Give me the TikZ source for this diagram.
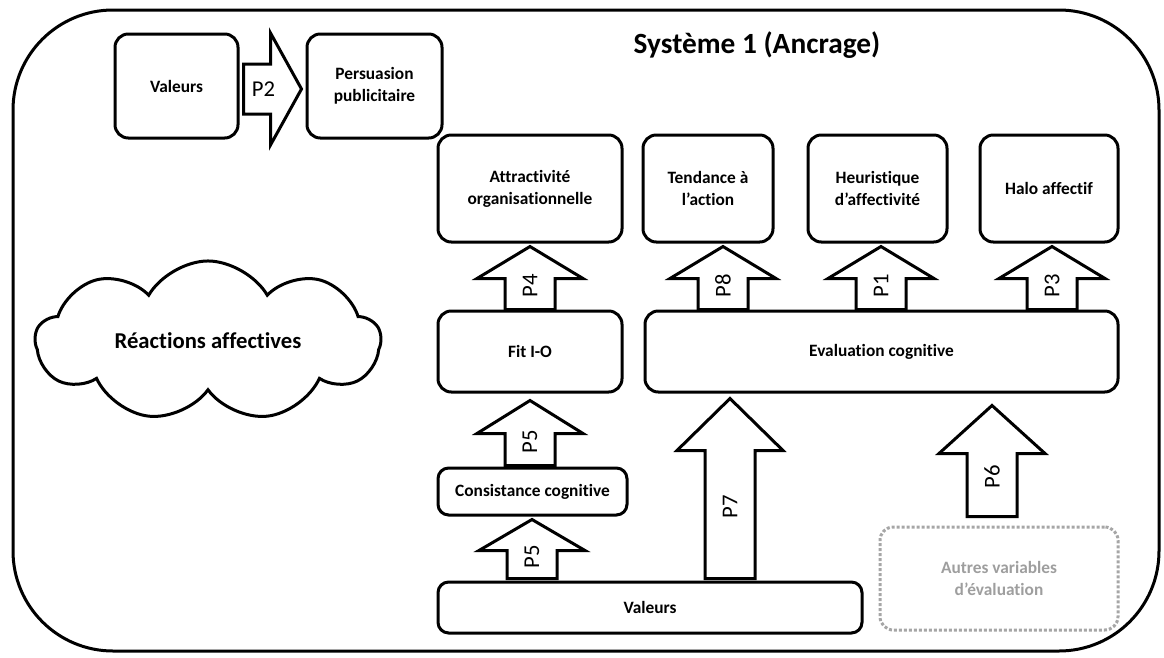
\documentclass[tikz,border=0pt]{standalone}
\usepackage{fontspec}
\setmainfont{Carlito}[Ligatures={NoCommon,NoContextual}, Contextuals=NoAlternate]
\usetikzlibrary{calc,shapes.symbols}
\tikzset{
  box/.style={draw, line width=2.25pt, rounded corners=10pt, align=center,
    font=\fontsize{13}{16.5}\selectfont\bfseries},
  sz/.style 2 args={minimum width=#1*0.75pt, minimum height=#2*0.75pt, inner sep=0pt},
  fleche/.style={draw, line width=2.25pt, fill=white, line join=miter},
  plabel/.style={font=\fontsize{17}{20}\selectfont, inner sep=0pt},
}

\begin{document}
\begin{tikzpicture}[x=0.75pt,y=-0.75pt]
\useasboundingbox (0,0) rectangle (1164,657);
% cadre
\draw[line width=2.25pt, rounded corners=75pt] (13,10) rectangle (1159,651);
\node[font=\fontsize{22}{26}\selectfont\bfseries] (titre) at (757,45) {Système 1 (Ancrage)};

\node[box, sz={123}{104}] (valtop) at (176.5,86) {Valeurs};
\node[box, sz={135}{104}] (pers) at (374.5,86) {Persuasion\\publicitaire};

\node[box, sz={184}{107}] (attr) at (530,188.5) {Attractivité\\organisationnelle};
\node[box, sz={130}{107}] (tend) at (708,188.5) {Tendance à\\l’action};
\node[box, sz={139}{107}] (heur) at (877.5,188.5) {Heuristique\\d’affectivité};
\node[box, sz={138}{107}] (halo) at (1049,188.5) {Halo affectif};

\node[box, sz={184}{81}] (fit) at (530,351.5) {Fit I-O};
\node[box, sz={473}{81}] (eval) at (881.5,351.5) {Evaluation cognitive};
\node[box, sz={189}{47}, rounded corners=8pt] (cons) at (532.5,491.5) {Consistance cognitive};
\node[box, sz={424}{51}, rounded corners=8pt] (valbot) at (650,607.5) {Valeurs};
\node[box, sz={238}{103}, draw=black!35, dash pattern=on 2.25pt off 1.5pt,
  text=black!38] (autres) at (999,578.5) {Autres variables\\d’évaluation};

\node[cloud, draw, line width=2.25pt, cloud puffs=9, cloud puff arc=120, aspect=2.3,
  sz={345}{152}, font=\fontsize{17}{20}\selectfont\bfseries] (reac) at (208,341) {Réactions affectives};

% P2
\coordinate (p2b) at ($(valtop.east)+(4,3)$);
\coordinate (p2t) at ($(pers.west)+(-4,3)$);
\draw[fleche] ($(p2b)+(0,-25)$) -- ($(p2t)+(-31,-25)$) -- ($(p2t)+(-31,-56)$) -- (p2t)
  -- ($(p2t)+(-31,56)$) -- ($(p2t)+(-31,25)$) -- ($(p2b)+(0,25)$) -- cycle;
\node[plabel] (P2) at ($(p2b)!0.5!(p2t)+(-9,0)$) {P2};

\foreach \xa/\from/\to/\lab/\hd/\gapa/\gapb in {
  530/fit/attr/P4/32/0/3,
  723/eval/tend/P8/32/0/3,
  881/eval/heur/P1/32/0/3,
  1052/eval/halo/P3/32/0/3,
  530/cons/fit/P5/33/1/7,
  532/valbot/cons/P5/31/2/3,
  730/valbot/eval/P7/52/2/5,
  992/autres/eval/P6/48/9/12}
{
  \coordinate (b0) at (\xa,0 |- \from.north);
  \coordinate (t0) at (\xa,0 |- \to.south);
  \coordinate (b) at ($(b0)+(0,-\gapa)$);
  \coordinate (t) at ($(t0)+(0,\gapb)$);
  \draw[fleche] ($(b)+(-25,0)$) -- ($(t)+(-25,\hd)$) -- ($(t)+(-53,\hd)$) -- (t)
    -- ($(t)+(53,\hd)$) -- ($(t)+(25,\hd)$) -- ($(b)+(25,0)$) -- cycle;
  \node[plabel, rotate=90] (\lab-\from) at ($(b)!0.5!(t)+(0,{\hd/2-8})$) {\lab};
}
\end{tikzpicture}
\end{document}
